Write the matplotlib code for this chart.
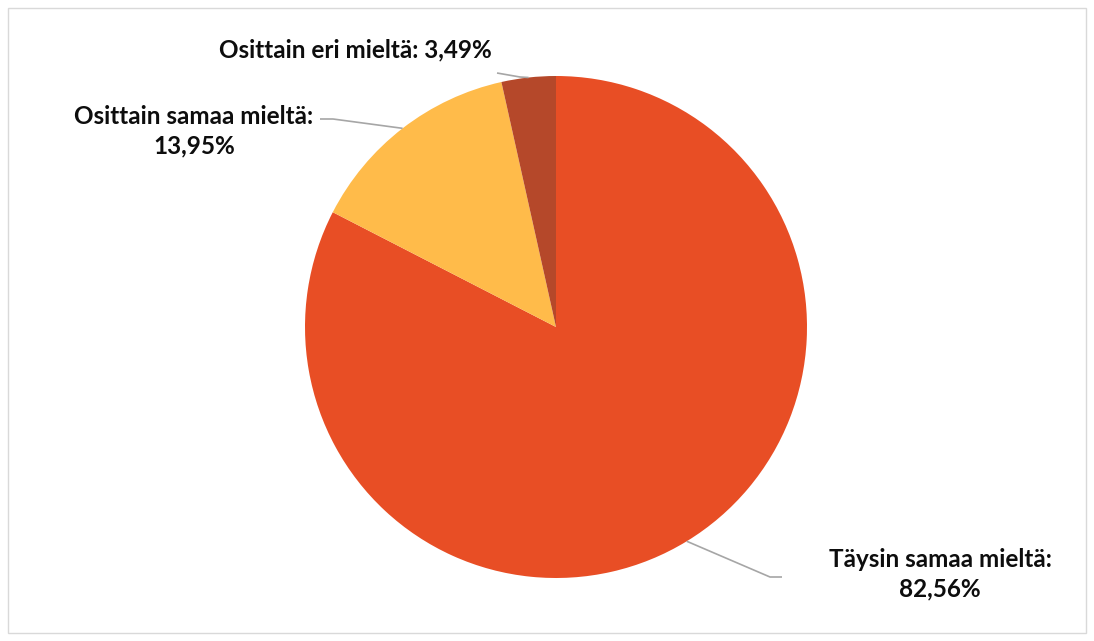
import numpy as np
import matplotlib
matplotlib.use("Agg")
import matplotlib.pyplot as plt
from matplotlib.patches import Rectangle

labels = ["Täysin samaa mieltä:\n82,56%", "Osittain samaa mieltä:\n13,95%", "Osittain eri mieltä: 3,49%"]
values = [82.56, 13.95, 3.49]
colors = ["#E84E25", "#FFBB4A", "#B5482A"]

fig = plt.figure(figsize=(10.94, 6.41), dpi=100)
fig.patches.append(Rectangle((8 / 1094, 8 / 641), 1078 / 1094, 625 / 641, transform=fig.transFigure,
                             fill=False, edgecolor="#D9D9D9", linewidth=1))

# pie centre at (556, 327) px, radius 251 px
ax = fig.add_axes([305 / 1094, 1 - 578 / 641, 502 / 1094, 502 / 641])
wedges, _ = ax.pie(values, colors=colors, startangle=90, counterclock=False,
                   wedgeprops=dict(linewidth=0))
ax.set_aspect("equal")
ax.axis("off")
ax.set_xlim(-1, 1)
ax.set_ylim(-1, 1)


def px(x, y):
    return (x - 556) / 251, (327 - y) / 251


# label text position (px), elbow, end of horizontal piece
layout = [
    ((940, 574), (770, 577), (782, 577)),
    ((194, 131), (333, 119), (320, 119)),
    ((355, 50), (520, 77), (497, 73)),
]

for w, lab, (txt, elbow, end) in zip(wedges, labels, layout):
    mid = np.deg2rad((w.theta1 + w.theta2) / 2)
    tip = (np.cos(mid), np.sin(mid))
    e = px(*elbow)
    s = px(*end)
    ax.plot([tip[0], e[0], s[0]], [tip[1], e[1], s[1]], color="#A6A6A6", linewidth=1.2,
            clip_on=False, solid_capstyle="butt")
    tx, ty = px(*txt)
    ax.text(tx, ty, lab, ha="center", va="center", fontsize=17.5, fontweight="bold",
            family="Lato", color="#0D0D0D", linespacing=1.36)

fig.savefig("out.png", dpi=100)
